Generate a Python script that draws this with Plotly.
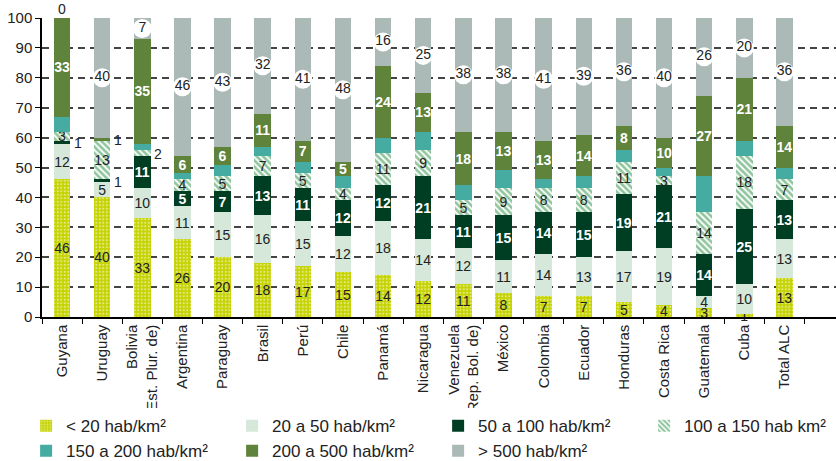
import plotly.graph_objects as go

# Population share (%) by density class, per country
countries = ["Guyana", "Uruguay", "Bolivia<br>(Est. Plur. de)", "Argentina", "Paraguay",
             "Brasil", "Perú", "Chile", "Panamá", "Nicaragua",
             "Venezuela<br>(Rep. Bol. de)", "México", "Colombia", "Ecuador", "Honduras",
             "Costa Rica", "Guatemala", "Cuba", "Total ALC"]

lt20 = [46, 40, 33, 26, 20, 18, 17, 15, 14, 12, 11, 8, 7, 7, 5, 4, 3, 1, 13]
d20_50 = [12, 5, 10, 11, 15, 16, 15, 12, 18, 14, 12, 11, 14, 13, 17, 19, 4, 10, 13]
d50_100 = [1, 1, 11, 5, 7, 13, 11, 12, 12, 21, 11, 15, 14, 15, 19, 21, 14, 25, 13]
d100_150 = [3, 13, 2, 4, 5, 7, 5, 4, 11, 9, 5, 9, 8, 8, 11, 3, 14, 18, 7]
d150_200 = [5, 0, 2, 2, 4, 3, 4, 4, 5, 6, 5, 6, 3, 4, 4, 3, 12, 5, 4]
d200_500 = [33, 1, 35, 6, 6, 11, 7, 5, 24, 13, 18, 13, 13, 14, 8, 10, 27, 21, 14]
gt500 = [0, 40, 7, 46, 43, 32, 41, 48, 16, 25, 38, 38, 41, 39, 36, 40, 26, 20, 36]

series = [
    ("< 20 hab/km²", lt20, dict(color="#c5d300", pattern=dict(shape=".", fgcolor="#ffffff", bgcolor="#c5d300", size=3.5, solidity=0.3)), "#222222", "normal", True),
    ("20 a 50 hab/km²", d20_50, dict(color="#d5e8da"), "#222222", "normal", True),
    ("50 a 100 hab/km²", d50_100, dict(color="#003e24"), "#ffffff", "bold", True),
    ("100 a 150 hab km²", d100_150, dict(color="#ffffff", pattern=dict(shape="\\", fgcolor="#1f8a3c", bgcolor="#ffffff", size=4.5, solidity=0.6)), "#222222", "normal", True),
    ("150 a 200 hab/km²", d150_200, dict(color="#46aba0"), "#222222", "normal", False),
    ("200 a 500 hab/km²", d200_500, dict(color="#5f833a"), "#ffffff", "bold", True),
    ("> 500 hab/km²", gt500, dict(color="#abbab7"), "#222222", "normal", False),
]

FONT = "Liberation Sans, Arial, sans-serif"

fig = go.Figure()
for name, vals, marker, tcolor, weight, labelled in series:
    texts = []
    for i, v in enumerate(vals):
        small = v <= 2 and not (name.startswith("<") and v > 0)
        texts.append(str(v) if labelled and v > 0 and not small else "")
    fig.add_trace(go.Bar(
        name=name, x=countries, y=vals, marker=dict(line=dict(width=0), **marker),
        text=texts, textposition="inside", insidetextanchor="middle",
        constraintext="none", textangle=0, cliponaxis=False,
        textfont=dict(family=FONT, size=14, color=tcolor, weight=weight),
        hoverinfo="skip",
    ))

# Labels of the top class sit on white ovals
top_mid = [100 - v / 2 for v in gt500]
idx = [i for i, v in enumerate(gt500) if v > 0]
fig.add_trace(go.Scatter(
    x=[countries[i] for i in idx], y=[top_mid[i] for i in idx],
    text=[str(gt500[i]) for i in idx], mode="markers+text",
    marker=dict(symbol="circle", size=19, color="white", line=dict(width=0)),
    textposition="middle center", textfont=dict(family=FONT, size=14, color="#222222"),
    showlegend=False, hoverinfo="skip", cliponaxis=False,
))

# Small segments get their value beside the bar
annotations = []
order = [lt20, d20_50, d50_100, d100_150, d150_200, d200_500, gt500]
labelled_flags = [s[5] for s in series]
for i in range(len(countries)):
    base = 0
    for k, vals in enumerate(order):
        v = vals[i]
        if labelled_flags[k] and 0 < v <= 2 and k != 0:
            annotations.append(dict(x=countries[i], y=base + v / 2, text=str(v), showarrow=False,
                                    xanchor="left", xshift=10, yshift=-1,
                                    font=dict(family=FONT, size=14, color="#222222")))
        base += v
    if gt500[i] == 0:
        annotations.append(dict(x=countries[i], y=100, text="0", showarrow=False,
                                yanchor="bottom", yshift=-1,
                                font=dict(family=FONT, size=14, color="#222222")))

fig.update_layout(
    width=836, height=461, barmode="stack", bargap=0.59,
    margin=dict(l=42, r=0, t=18, b=144, autoexpand=False),
    paper_bgcolor="white", plot_bgcolor="white",
    font=dict(family=FONT, size=15, color="#222222"),
    annotations=annotations,
    legend=dict(orientation="h", x=-0.02, xanchor="left", y=-0.305, yanchor="top",
                entrywidth=161, entrywidthmode="pixels", traceorder="normal",
                font=dict(family=FONT, size=17, color="#222222"), tracegroupgap=0,
                itemwidth=30),
)
fig.update_yaxes(range=[0, 100], dtick=10, showline=True, linecolor="#000000", linewidth=1.5,
                 ticks="outside", ticklen=5, tickcolor="#000000",
                 showgrid=True, gridcolor="#444444", griddash="7px,5px", gridwidth=1.5,
                 zeroline=False, tickfont=dict(size=15))
fig.update_xaxes(showline=True, linecolor="#000000", linewidth=1.5, ticks="outside",
                 tickson="boundaries", ticklen=5, tickcolor="#000000", tickangle=-90,
                 tickfont=dict(size=15), automargin=False)

fig.write_html("out.html")
